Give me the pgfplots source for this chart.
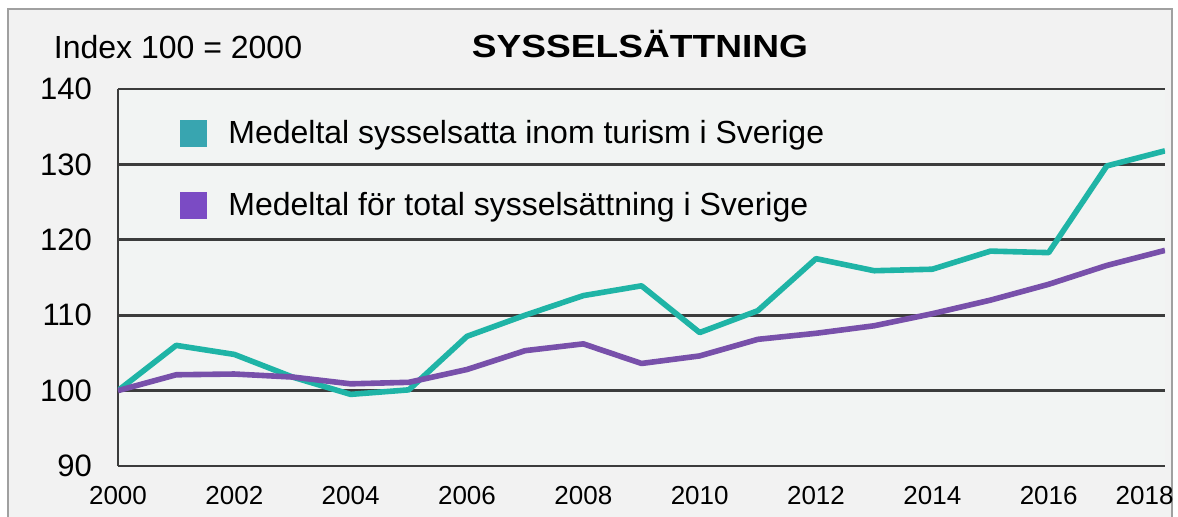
\documentclass[border=0pt]{standalone}
\usepackage{fontspec}
\setmainfont{Liberation Sans}
\usepackage{graphicx}
\usepackage{pgfplots}
\pgfplotsset{compat=1.18}
\definecolor{bgc}{HTML}{F2F2F2}
\definecolor{plotbg}{HTML}{F2F4F3}
\definecolor{framec}{HTML}{A0A0A0}
\definecolor{gridc}{HTML}{3C3C3C}
\definecolor{tealline}{HTML}{1FB4A6}
\definecolor{tealsq}{HTML}{38A5B0}
\definecolor{purpline}{HTML}{7850AA}
\definecolor{purpsq}{HTML}{7B4BC4}
\begin{document}
\begin{tikzpicture}
\useasboundingbox (-59pt,-25pt) rectangle (530pt,233pt);
\fill[white] (-59pt,-25pt) rectangle (530pt,233pt);
\fill[bgc] (-55pt,-26pt) rectangle (527pt,228.5pt);
\draw[framec, line width=1pt] (-55pt,-26pt) -- (-55pt,228.5pt) -- (527pt,228.5pt) -- (527pt,-26pt);
\node[anchor=base, font=\fontsize{16}{18}\selectfont] at (30pt,204pt) {Index 100 = 2000};
\node[anchor=base, font=\fontsize{16}{18}\selectfont\bfseries] at (261pt,204.5pt) {\scalebox{1.16}[1.0]{SYSSELSÄTTNING}};
\begin{axis}[
  at={(0pt,0pt)}, anchor=origin,
  scale only axis, width=523.5pt, height=188.5pt,
  xmin=2000, xmax=2018, ymin=90, ymax=140,
  axis background/.style={fill=plotbg},
  axis lines*=left,
  axis line style={-, gridc, line width=1.4pt},
  ymajorgrids, grid style={gridc, line width=1.4pt},
  ytick={90,100,...,140},
  xtick={2000,2002,...,2016,2017.65},
  xticklabels={2000,2002,2004,2006,2008,2010,2012,2014,2016,2018},
  major tick length=0pt,
  x axis line style={draw=none},
  yticklabel style={font=\fontsize{15.5}{17}\selectfont, xshift=-9.5pt},
  xticklabel style={font=\fontsize{13}{14}\selectfont, yshift=-6.5pt},
  /pgf/number format/assume math mode=true,
  /pgf/number format/1000 sep={},
  legend style={at={(0.0592,0.92)}, anchor=north west, draw=none, fill=none,
    font=\fontsize{16}{18}\selectfont, row sep=22.5pt, inner sep=0pt,
    nodes={inner sep=0pt}},
  legend cell align=left,
  legend image code/.code={\path[draw=none, fill=none] (0pt,0pt) -- (24pt,0pt);\fill[#1, draw=none] (0pt,-6.75pt) rectangle (13.5pt,6.75pt);},
]
\addplot[tealline, line width=2.8pt, line join=round, forget plot] coordinates {
(2000,100) (2001,106.0) (2002,104.8) (2003,101.8) (2004,99.5) (2005,100.1)
(2006,107.2) (2007,110.0) (2008,112.6) (2009,113.9) (2010,107.7) (2011,110.6)
(2012,117.5) (2013,115.9) (2014,116.1) (2015,118.5) (2016,118.3) (2017,129.8) (2018,131.8)};
\addplot[purpline, line width=2.8pt, line join=round, forget plot] coordinates {
(2000,100) (2001,102.1) (2002,102.2) (2003,101.8) (2004,100.9) (2005,101.1)
(2006,102.8) (2007,105.3) (2008,106.2) (2009,103.6) (2010,104.6) (2011,106.8)
(2012,107.6) (2013,108.6) (2014,110.2) (2015,112.0) (2016,114.1) (2017,116.6) (2018,118.6)};
\addlegendimage{tealsq}
\addlegendentry{Medeltal sysselsatta inom turism i Sverige}
\addlegendimage{purpsq}
\addlegendentry{Medeltal för total sysselsättning i Sverige}
\end{axis}
\end{tikzpicture}
\end{document}
